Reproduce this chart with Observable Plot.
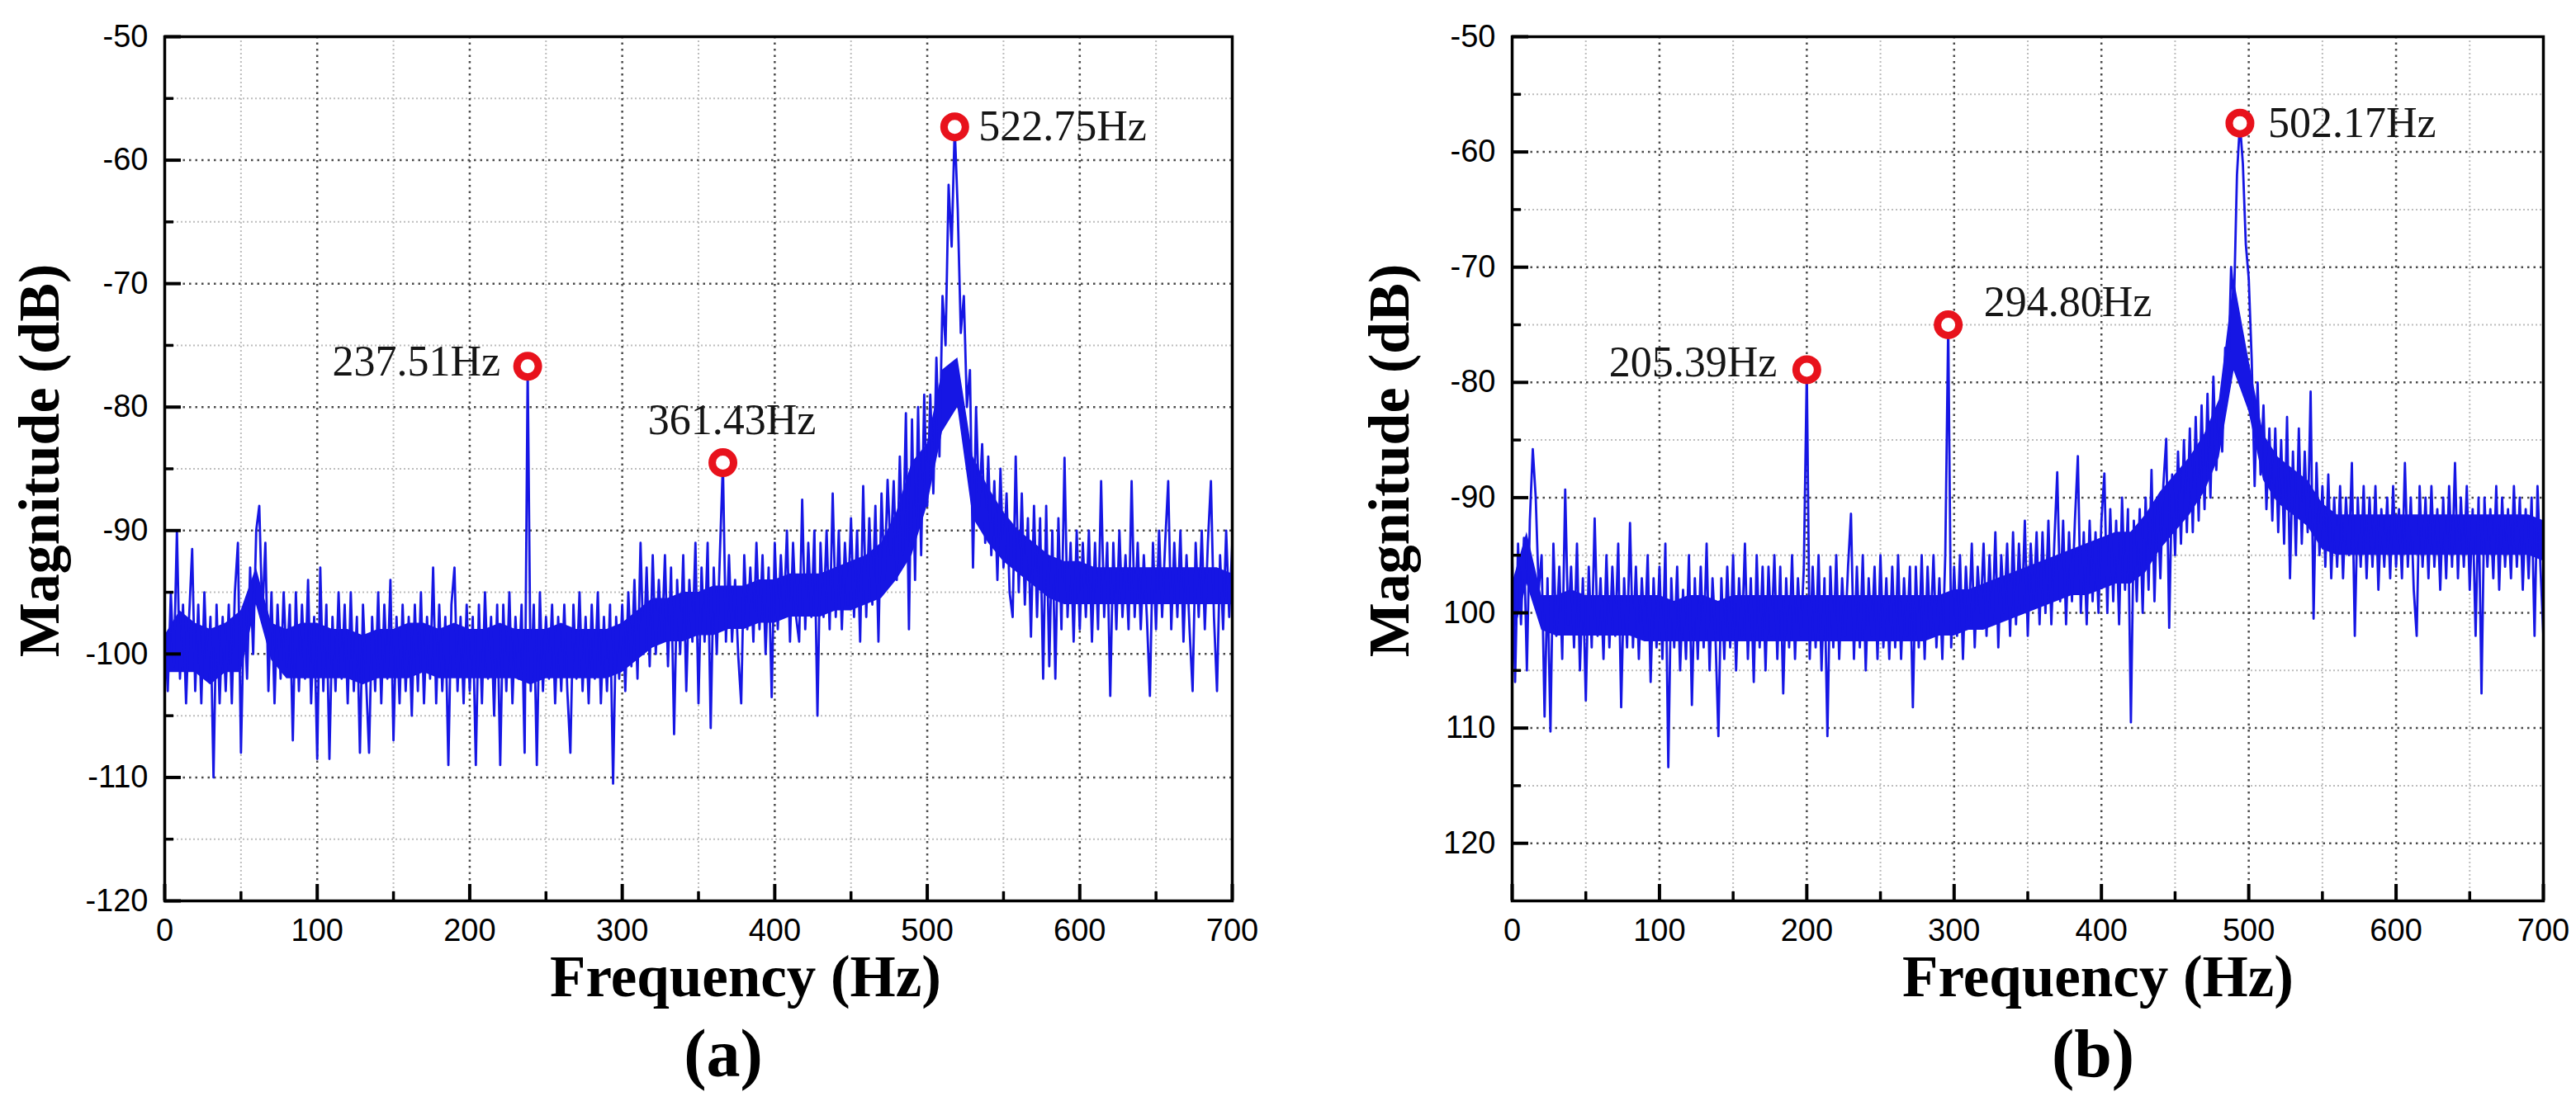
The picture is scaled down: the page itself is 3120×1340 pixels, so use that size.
<!DOCTYPE html>
<html><head><meta charset="utf-8">
<script src="https://cdn.jsdelivr.net/npm/d3@7"></script>
<script src="https://cdn.jsdelivr.net/npm/@observablehq/plot@0.6"></script>
<style>
html,body{margin:0;padding:0;background:#fff;}
#root{position:relative;width:3120px;height:1340px;overflow:hidden;background:#fff;}
.panel{position:absolute;top:0;}
.ttl{position:absolute;font-family:"Liberation Serif","Times New Roman",serif;font-weight:bold;color:#000;white-space:nowrap;line-height:1;}
</style></head><body><div id="root"></div>
<script>
// Spectrum readings, one every freqStep Hz from 0 to 700 Hz (dB)
const freqStep = 2;
const magA = [
-98,-103,-95,-101,-90,-102,-96,-104,-97,-91.5,
-103,-96,-104,-95,-102,-97,-110,-96,-104,-97,
-103,-96,-104,-95,-91,-108,-96,-102,-93,-100,
-90,-88,-97,-91,-103,-95,-104,-96,-102,-95,
-101,-96,-107,-95,-103,-96,-102,-94,-104,-97,
-108.5,-93,-103,-96,-108.5,-97,-103,-95,-102,-96,
-104,-95,-103,-97,-108,-96,-102,-108,-97,-103,
-95,-104,-96,-102,-94,-107,-97,-104,-96,-103,
-97,-105,-96,-103,-95,-104,-97,-102,-93,-104,
-96,-103,-97,-109,-96,-93,-103,-97,-104,-96,
-103,-97,-109,-96,-104,-95,-102,-97,-105,-96,
-109,-96,-103,-95,-104,-97,-102,-96,-108,-76.7,
-103,-96,-109,-95,-103,-97,-102,-96,-104,-97,
-103,-96,-103,-108,-96,-102,-95,-103,-97,-104,
-96,-102,-95,-104,-97,-103,-96,-110.5,-97,-102,
-96,-103,-95,-101,-94,-102,-91,-100,-93,-101,
-92,-100,-94,-99,-92,-101,-93,-106.5,-94,-100,
-92,-103,-94,-99,-91,-104,-93,-99,-91,-106,
-93,-100,-92,-84.5,-99,-92,-99,-94,-100,-104,
-92,-98,-93,-99,-91,-98,-92,-100,-93,-103.5,
-91,-98,-92,-97,-90,-99,-91,-97,-99,-87.5,
-98,-91,-97,-90,-105,-91,-97,-90,-98,-87,
-97,-90,-98,-91,-96,-89,-97,-90,-99,-86.4,
-97,-89,-96,-88,-99,-87,-94,-85.9,-92,-86,
-94,-84,-92,-80.5,-98,-81,-94,-80,-92,-79,
-88,-79,-87,-76,-84,-71,-75,-62,-67,-57.3,
-64,-74,-71,-80,-77,-93,-80,-88,-83,-91,
-84,-92,-86,-94,-85,-93,-87,-95,-97,-84,
-95,-87,-96,-89,-98.6,-88,-97,-89,-102,-88,
-101,-90,-102,-89,-98,-84.1,-97,-91,-99,-90,
-98,-91,-97,-90,-99,-91,-98,-86,-97,-91,
-103.4,-91,-98,-90,-97,-92,-98,-86,-97,-91,
-98,-92,-97,-103.4,-91,-98,-90,-97,-91,-86,
-98,-91,-97,-90,-99,-92,-98,-103,-91,-97,
-90,-98,-91,-86,-97,-103,-92,-98,-90,-97,
-91
];
const magB = [
-95,-106,-94,-101,-93.5,-105,-92,-85.8,-90,-98,
-95,-109,-97,-110.3,-94,-102,-96,-104,-89.3,-101,
-96,-103,-94,-105,-97,-107.6,-96,-103,-91.8,-102,
-97,-104,-95,-103,-96,-102,-94,-108.2,-97,-103,
-92.2,-103,-96,-104,-97,-102,-95,-106,-97,-103,
-96,-104,-94,-113.4,-97,-103,-96,-105,-98,-104,
-95,-108,-97,-104,-96,-103,-94,-105,-97,-102,
-110.7,-97,-104,-96,-103,-95,-105,-97,-102,-94,
-104,-97,-106,-95,-103,-96,-105,-96,-102,-95,
-104,-96,-107,-97,-103,-95,-104,-97,-102,-96,
-78.9,-104,-96,-103,-95,-105,-97,-110.7,-96,-103,
-95,-104,-97,-102,-96,-91.4,-104,-96,-103,-95,
-105,-97,-102,-96,-104,-95,-103,-97,-104,-96,
-103,-95,-104,-97,-102,-96,-108.2,-96,-103,-95,
-104,-96,-102,-95,-103,-97,-104,-95,-75,-103,
-96,-102,-95,-104,-96,-101,-94,-103,-96,-100,
-94,-102,-95,-101,-93,-103,-95,-100,-94,-102,
-93,-101,-94,-100,-92,-102,-94,-99,-93,-101,
-93,-100,-92,-101,-94,-87.8,-99,-92,-101,-93,
-99,-92,-86.4,-100,-93,-101,-92,-99,-93,-100,
-92,-87.9,-100,-91,-99,-92,-101,-90,-98,-91,
-109.5,-92,-99,-91,-100,-90,-98,-87.6,-99,-90,
-97,-89,-84.9,-101.3,-88,-95,-86,-94,-85,-93,
-84,-93,-83,-92,-82,-91,-81,-90,-79.5,-87.6,
-82,-86,-77,-80,-70,-73,-62,-57.5,-61,-68,
-71,-78,-89,-80,-88,-82,-91,-84,-92,-84,
-93,-85,-94,-83,-97,-86,-95,-84,-94,-86,
-93,-80.8,-100.5,-87,-95,-89,-96,-88,-97,-90,
-96,-89,-97,-90,-95,-87,-102,-90,-96,-89,
-97,-90,-96,-89,-98,-91,-96,-90,-97,-89,
-96,-91,-97,-87,-96,-90,-98,-102,-89,-96,
-90,-97,-89,-96,-91,-98,-90,-97,-89,-96,
-87,-97,-90,-96,-89,-98,-91,-102,-90,-107,
-90,-96,-91,-97,-89,-98,-90,-96,-91,-97,
-89,-96,-90,-98,-91,-97,-90,-102,-89,-96,
-102
];

// Inner edges of the densest part of the noise band, one reading every coreStep Hz (dB)
const coreStep = 10;
const coreTopA = [
-98.5,-96.5,-97.5,-98,-97.5,-96.5,-93,-97.5,-98,-97.5,
-97.5,-98,-98,-98.5,-98,-98,-97.5,-97.5,-98,-97.5,
-98,-98,-97.5,-98,-98,-98,-97.5,-98,-98,-98,
-97.5,-96.5,-95.5,-95.5,-95,-95,-94.5,-94.5,-94.5,-94,
-94,-93.5,-93.5,-93.5,-93,-92.5,-92,-91,-88.5,-84.5,
-83,-77,-76,-84,-86.5,-88.5,-90,-91,-92,-92.5,
-92.5,-93,-93,-93,-93,-93,-93,-93,-93,-93,-93.5
];
const coreBotA = [
-101.5,-101.5,-101.5,-102.5,-101.5,-101.5,-96,-100.5,-102,-102,
-102,-102,-102,-102.5,-102,-102,-102,-101.5,-102,-102,
-102,-102,-102,-102,-102.5,-102,-102,-102,-102,-102,
-101.5,-100.5,-99.5,-99,-99,-98.5,-98.5,-98,-98,-97.5,
-97.5,-97,-97,-97,-96.5,-96.5,-96,-95.5,-94,-92,
-88,-82,-80,-89,-91,-92.5,-93.5,-94.5,-95.5,-96,
-96,-96,-96,-96,-96,-96,-96,-96,-96,-96,-96
];
const coreTopB = [
-97.5,-93,-98.5,-98.5,-98,-98.5,-98.5,-98.5,-98.5,-98.5,
-98.5,-99,-98.5,-98.5,-99,-98.5,-98.5,-98.5,-98.5,-98.5,
-98.5,-98.5,-98.5,-98.5,-98.5,-98.5,-98.5,-98.5,-98.5,-98.5,
-98,-98,-97.5,-97,-96.5,-96,-95.5,-95,-94.5,-94,
-93.5,-93,-93,-91.5,-89.5,-88,-86.5,-84.5,-81.5,-71,
-78,-84.5,-86.5,-87.5,-88.5,-90.5,-91.5,-91.5,-91.5,-91.5,
-91.5,-91.5,-91.5,-91.5,-91.5,-91.5,-91.5,-91.5,-91.5,-91.5,-92
];
const coreBotB = [
-102.5,-97.5,-101.5,-102,-102,-102,-102,-102,-102,-102.5,
-102.5,-102.5,-102.5,-102.5,-102.5,-102.5,-102.5,-102.5,-102.5,-102.5,
-102.5,-102.5,-102.5,-102.5,-102.5,-102.5,-102.5,-102.5,-102.5,-102,
-102,-101.5,-101.5,-101,-100.5,-100,-99.5,-99,-98.5,-98.5,
-98,-97.5,-97.5,-96.5,-94.5,-93,-91.5,-89.5,-86.5,-79,
-82.5,-88.5,-90.5,-91.5,-92.5,-94.5,-95,-95,-95,-95,
-95,-95,-95,-95,-95,-95,-95,-95,-95,-95,-95.5
];

// Marked peaks
const peakFreqA = [238, 366, 518];
const peakMagA = [-76.7, -84.5, -57.3];
const peakLabelA = ["237.51Hz", "361.43Hz", "522.75Hz"];
const peakFreqB = [200, 296, 494];
const peakMagB = [-78.9, -75, -57.5];
const peakLabelB = ["205.39Hz", "294.80Hz", "502.17Hz"];

// Axes
const xTicks = [0, 100, 200, 300, 400, 500, 600, 700];
const xTickLabels = ["0", "100", "200", "300", "400", "500", "600", "700"];
const xMinorTicks = [50, 150, 250, 350, 450, 550, 650];
const yDomainA = [-120, -50];
const yTicksA = [-50, -60, -70, -80, -90, -100, -110, -120];
const yTickLabelsA = ["-50", "-60", "-70", "-80", "-90", "-100", "-110", "-120"];
const yMinorA = [-55, -65, -75, -85, -95, -105, -115];
const yDomainB = [-125, -50];
const yTicksB = [-50, -60, -70, -80, -90, -100, -110, -120];
const yTickLabelsB = ["-50", "-60", "-70", "-80", "-90", "100", "110", "120"];
const yMinorB = [-55, -65, -75, -85, -95, -105, -115];

const xTitle = "Frequency (Hz)";
const yTitle = "Magnitude (dB)";
const captions = ["(a)", "(b)"];

const BLUE = "#1616e4", RED = "#e8121c";
const H = 1160, MT = 44, MB = 69;

function panel(o) {
  const data = o.mag.map((m, i) => ({f: i * freqStep, m}));
  const core = o.coreTop.map((t, i) => ({f: i * coreStep, t, b: o.coreBot[i]}));
  const peaks = o.peakF.map((f, i) => ({f, m: o.peakM[i], label: o.peakL[i]}));
  const fw = o.width - o.ml - o.mr, fh = H - MT - MB;
  const gridY = o.yTicks.filter(v => v !== o.yDomain[0] && v !== o.yDomain[1]);
  const labelMarks = peaks.map((p, i) => Plot.text([p], {
    x: "f", y: "m", text: "label", textAnchor: o.layout[i][0], dx: o.layout[i][1], dy: o.layout[i][2],
    lineAnchor: "middle", fontSize: 52, fontFamily: "Liberation Serif, Times New Roman, serif", fill: "#151515"
  }));
  return Plot.plot({
    width: o.width, height: H, marginLeft: o.ml, marginRight: o.mr, marginTop: MT, marginBottom: MB,
    style: {fontFamily: "Liberation Sans, Arial, sans-serif", background: "white", color: "black", overflow: "visible"},
    x: {domain: [0, 700]},
    y: {domain: o.yDomain},
    marks: [
      Plot.ruleX(xMinorTicks, {stroke: "#bdbdbd", strokeWidth: 2, strokeDasharray: "2,3"}),
      Plot.ruleY(o.yMinor, {stroke: "#bdbdbd", strokeWidth: 2, strokeDasharray: "2,3"}),
      Plot.ruleX(xTicks.slice(1, -1), {stroke: "#4a4a4a", strokeWidth: 2.5, strokeDasharray: "2.5,5"}),
      Plot.ruleY(gridY, {stroke: "#4a4a4a", strokeWidth: 2.5, strokeDasharray: "2.5,5"}),
      Plot.areaY(core, {x: "f", y1: "b", y2: "t", fill: BLUE}),
      Plot.line(data, {x: "f", y: "m", stroke: BLUE, strokeWidth: 2.8}),
      Plot.dot(peaks, {x: "f", y: "m", r: 13, stroke: RED, strokeWidth: 9, fill: "white"}),
      ...labelMarks,
      Plot.tickX(xTicks, {insetTop: fh - 20, stroke: "black", strokeWidth: 4}),
      Plot.tickX(xMinorTicks, {insetTop: fh - 11, stroke: "black", strokeWidth: 3.5}),
      Plot.tickY(o.yTicks, {insetRight: fw - 20, stroke: "black", strokeWidth: 4}),
      Plot.tickY(o.yMinor, {insetRight: fw - 11, stroke: "black", strokeWidth: 3.5}),
      Plot.frame({stroke: "black", strokeWidth: 3.5}),
      Plot.axisX(xTicks, {label: null, tickSize: 0, tickPadding: 22, fontSize: 38, tickFormat: d => xTickLabels[xTicks.indexOf(d)]}),
      Plot.axisY(o.yTicks, {label: null, tickSize: 0, tickPadding: 20, fontSize: 38, tickFormat: d => o.yLabels[o.yTicks.indexOf(d)]})
    ]
  });
}

const root = document.getElementById("root");
function place(node, left) {
  node.classList.add("panel");
  node.style.left = left + "px";
  root.appendChild(node);
}
place(panel({
  mag: magA, coreTop: coreTopA, coreBot: coreBotA, peakF: peakFreqA, peakM: peakMagA, peakL: peakLabelA,
  yDomain: yDomainA, yTicks: yTicksA, yLabels: yTickLabelsA, yMinor: yMinorA,
  width: 1560, ml: 199, mr: 68,
  layout: [["end", -33, -5], ["middle", 11, -51], ["start", 29, 0]]
}), 0);
place(panel({
  mag: magB, coreTop: coreTopB, coreBot: coreBotB, peakF: peakFreqB, peakM: peakMagB, peakL: peakLabelB,
  yDomain: yDomainB, yTicks: yTicksB, yLabels: yTickLabelsB, yMinor: yMinorB,
  width: 1560, ml: 271, mr: 40,
  layout: [["end", -36, -9], ["start", 43, -27], ["start", 34, 0]]
}), 1560);

function title(text, cx, baseline, size) {
  const d = document.createElement("div");
  d.className = "ttl";
  d.textContent = text;
  d.style.fontSize = size + "px";
  d.style.left = cx + "px";
  d.style.top = (baseline - 0.8375 * size) + "px";
  d.style.transform = "translateX(-50%)";
  root.appendChild(d);
}
function vtitle(text, baselineX, cy, size) {
  const d = document.createElement("div");
  d.className = "ttl";
  d.textContent = text;
  d.style.fontSize = size + "px";
  d.style.left = (baselineX - 0.3375 * size) + "px";
  d.style.top = cy + "px";
  d.style.transform = "translate(-50%,-50%) rotate(-90deg)";
  root.appendChild(d);
}
vtitle(yTitle, 72, 558, 70);
vtitle(yTitle, 1707, 558, 70);
title(xTitle, 903, 1207, 71);
title(xTitle, 2541, 1207, 71);
title(captions[0], 876, 1305, 82);
title(captions[1], 2535, 1305, 82);
</script></body></html>
